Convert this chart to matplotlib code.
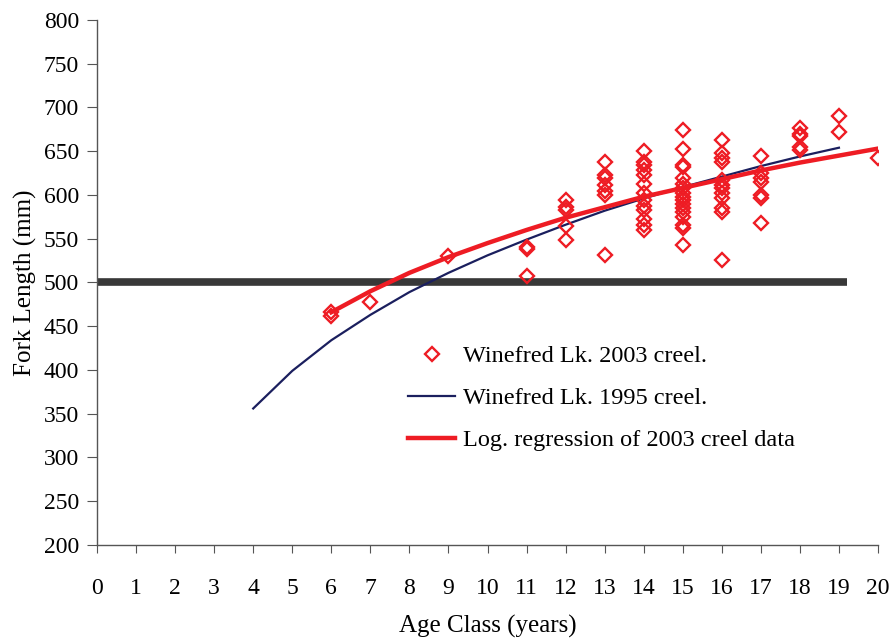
import matplotlib
matplotlib.use("Agg")
import matplotlib.pyplot as plt

# 2003 creel: age class and fork length (mm)
age_2003 = [6, 6, 7, 9,
            11, 11, 11,
            12, 12, 12, 12, 12,
            13, 13, 13, 13, 13, 13, 13,
            14, 14, 14, 14, 14, 14, 14, 14, 14, 14, 14, 14, 14,
            15, 15, 15, 15, 15, 15, 15, 15, 15, 15, 15, 15, 15, 15, 15, 15, 15,
            16, 16, 16, 16, 16, 16, 16, 16, 16, 16, 16, 16,
            17, 17, 17, 17, 17, 17, 17,
            18, 18, 18, 18, 18,
            19, 19, 20]
len_2003 = [462, 466, 478, 530,
            541, 538, 507,
            594, 586, 583, 564, 549,
            638, 623, 619, 611, 604, 600, 531,
            650, 638, 634, 629, 623, 613, 602, 594, 587, 583, 573, 566, 560,
            674, 653, 634, 632, 619, 613, 608, 602, 598, 594, 590, 585, 581, 575, 566, 562, 543,
            663, 648, 642, 638, 617, 611, 608, 602, 596, 585, 581, 526,
            644, 625, 619, 615, 600, 596, 568,
            676, 670, 667, 655, 651,
            690, 672, 642]

# 1995 creel growth curve
age_1995 = [4, 5, 6, 7, 8, 9, 10, 11, 12, 13, 14, 15, 16, 17, 18, 19]
len_1995 = [356, 399, 434, 463, 489, 511, 531, 549, 566, 582, 596, 609, 621, 633, 644, 654]

# log regression of 2003 data
age_reg = [6, 7, 8, 9, 10, 11, 12, 13, 14, 15, 16, 17, 18, 19, 20]
len_reg = [466, 490, 511, 529, 545, 560, 574, 586, 598, 608, 618, 628, 637, 645, 653]

# 500 mm reference line
ref_x = [0, 19.2]
ref_y = [500, 500]

plt.rcParams['font.family'] = ['Liberation Serif', 'DejaVu Serif']

fig = plt.figure(figsize=(8.91, 6.38), dpi=100)
ax = fig.add_axes([0.1089, 0.1458, 0.8765, 0.8229])

ax.plot(ref_x, ref_y, color='#383838', lw=5.5, solid_capstyle='butt', zorder=1)
ax.plot(age_1995, len_1995, color='#1b1f5e', lw=1.6, label='Winefred Lk. 1995 creel.', zorder=3)
ax.plot(age_reg, len_reg, color='#ee1c24', lw=3.2, label='Log. regression of 2003 creel data', zorder=4)
ax.plot(age_2003, len_2003, ls='none', marker='D', ms=7, mfc='none', mec='#ee1c24', mew=1.7,
        label='Winefred Lk. 2003 creel.', zorder=5)

ax.set_xlim(0, 20)
ax.set_ylim(200, 800)
ax.set_xticks(range(0, 21))
ax.set_yticks(range(200, 801, 50))

for s in ['top', 'right']:
    ax.spines[s].set_visible(False)
for s in ['left', 'bottom']:
    ax.spines[s].set_color('#555555')
    ax.spines[s].set_linewidth(1.0)

ax.tick_params(axis='x', direction='out', length=6, pad=18, labelsize=17, color='#555555')
ax.tick_params(axis='y', direction='out', length=7, pad=6, labelsize=17, color='#555555')

ax.set_xlabel('Age Class (years)', fontsize=18, labelpad=11.5)
ax.set_ylabel('Fork Length (mm)', fontsize=18, labelpad=4.5)

h, l = ax.get_legend_handles_labels()
order = [2, 0, 1]
ax.legend([h[i] for i in order], [l[i] for i in order], loc='upper left',
          bbox_to_anchor=(0.3705, 0.422), frameon=False, fontsize=17.5,
          handlelength=1.93, handletextpad=0.33, labelspacing=0.82, numpoints=1)

fig.savefig('out.png', dpi=100)
